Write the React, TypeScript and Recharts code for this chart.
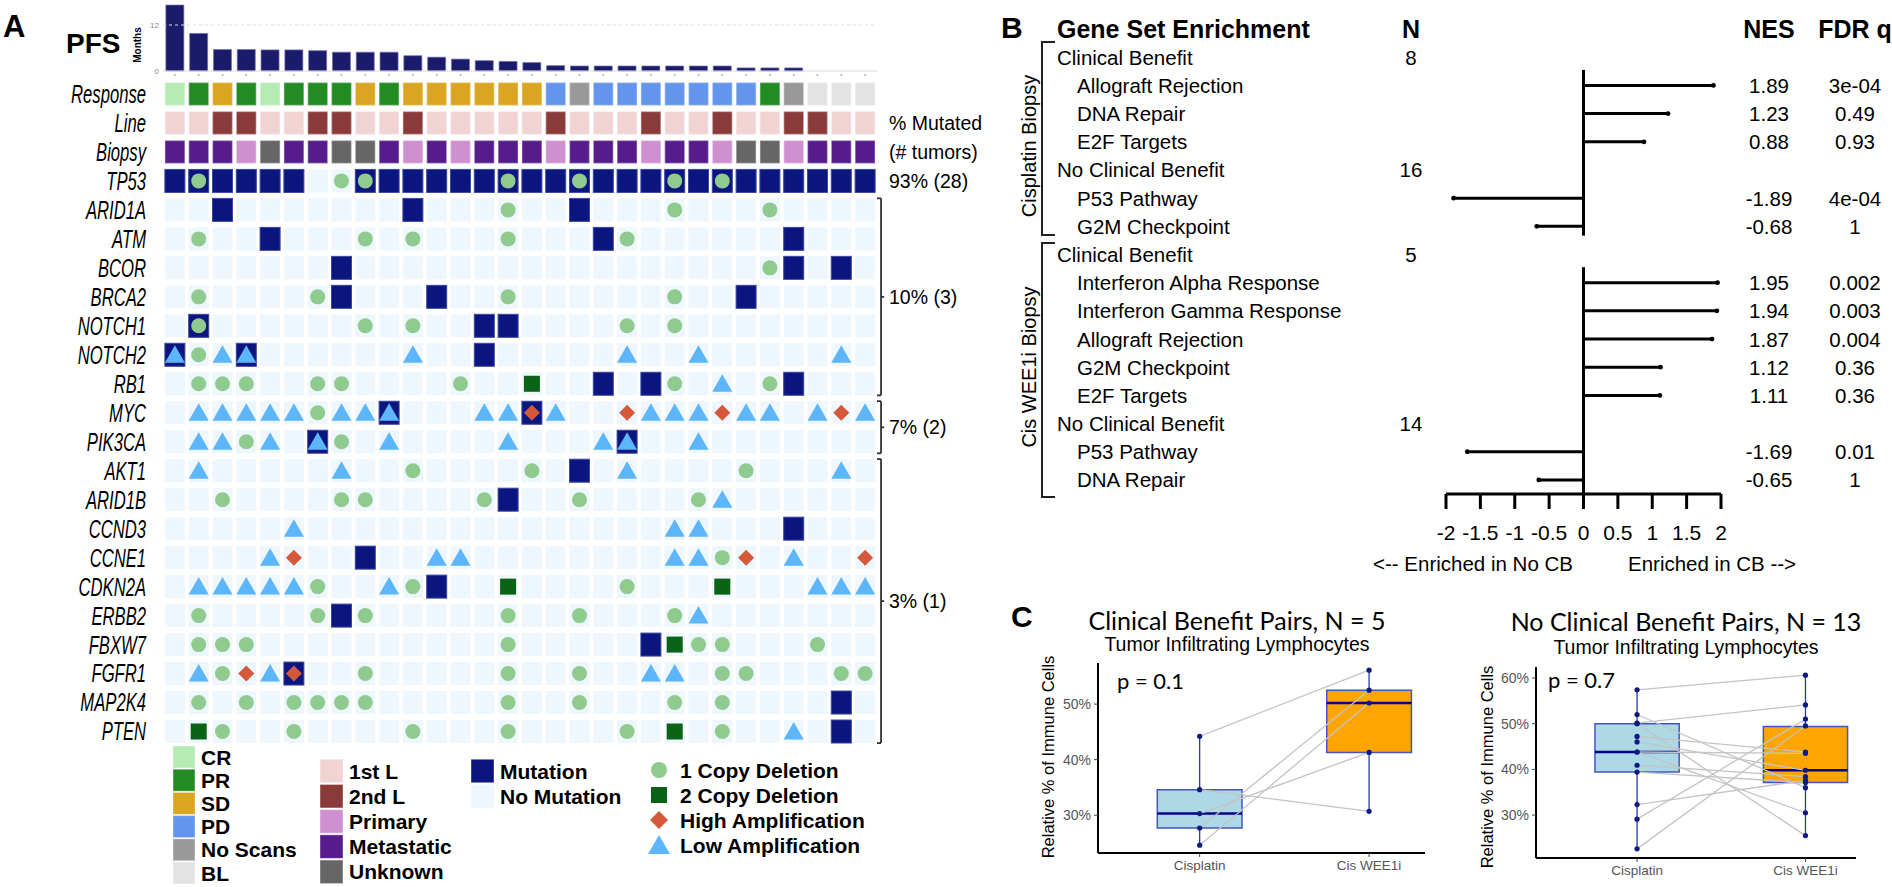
import React from "react";
import {
  BarChart,
  Bar,
  XAxis,
  YAxis,
  ScatterChart,
  Scatter,
  ReferenceLine,
  ReferenceArea,
} from "recharts";

const SANS = "'Liberation Sans', Arial, Helvetica, sans-serif";
const CALIBRI = "Lato, 'Open Sans', sans-serif";

// ---------------- Panel A: PFS + oncoprint ----------------
const pfsMonths = [
  17.2, 9.8, 5.6, 5.6, 5.5, 5.5, 5.3, 4.9, 4.9, 4.9, 4.0, 3.6, 3.1, 2.7, 2.5,
  2.2, 1.4, 1.3, 1.3, 1.3, 1.3, 1.3, 1.3, 1.3, 0.8, 0.8, 0.8, 0, 0, 0,
];

const response = [
  "CR", "PR", "SD", "PR", "CR", "PR", "PR", "PR", "SD", "PR", "SD", "SD", "SD", "SD", "SD",
  "SD", "PD", "NS", "PD", "PD", "PD", "PD", "PD", "PD", "PD", "PR", "NS", "BL", "BL", "BL",
];
const lineOfTherapy = [
  "1st", "1st", "2nd", "2nd", "1st", "1st", "2nd", "2nd", "1st", "1st", "2nd", "1st", "1st", "1st", "1st",
  "1st", "2nd", "1st", "1st", "1st", "2nd", "1st", "1st", "2nd", "1st", "1st", "2nd", "2nd", "1st", "1st",
];
const biopsySite = [
  "Metastatic", "Metastatic", "Metastatic", "Primary", "Unknown", "Metastatic", "Metastatic", "Unknown",
  "Unknown", "Metastatic", "Primary", "Metastatic", "Primary", "Metastatic", "Metastatic", "Metastatic",
  "Primary", "Metastatic", "Metastatic", "Metastatic", "Primary", "Metastatic", "Metastatic", "Primary",
  "Unknown", "Unknown", "Primary", "Metastatic", "Metastatic", "Metastatic",
];

const genes = [
  "TP53", "ARID1A", "ATM", "BCOR", "BRCA2", "NOTCH1", "NOTCH2", "RB1", "MYC", "PIK3CA",
  "AKT1", "ARID1B", "CCND3", "CCNE1", "CDKN2A", "ERBB2", "FBXW7", "FGFR1", "MAP2K4", "PTEN",
];

// columns (1-30) carrying each alteration
const mutation: Record<string, number[]> = {
  TP53: [1, 2, 3, 4, 5, 6, 9, 10, 11, 12, 13, 14, 15, 16, 17, 18, 19, 20, 21, 22, 23, 24, 25, 26, 27, 28, 29, 30],
  ARID1A: [3, 11, 18],
  ATM: [5, 19, 27],
  BCOR: [8, 27, 29],
  BRCA2: [8, 12, 25],
  NOTCH1: [2, 14, 15],
  NOTCH2: [1, 4, 14],
  RB1: [19, 21, 27],
  MYC: [10, 16],
  PIK3CA: [7, 20],
  AKT1: [18],
  ARID1B: [15],
  CCND3: [27],
  CCNE1: [9],
  CDKN2A: [12],
  ERBB2: [8],
  FBXW7: [21],
  FGFR1: [6],
  MAP2K4: [29],
  PTEN: [29],
};
const oneCopyDeletion: Record<string, number[]> = {
  TP53: [2, 8, 9, 15, 18, 22, 24],
  ARID1A: [15, 22, 26],
  ATM: [2, 9, 11, 15, 20],
  BCOR: [26],
  BRCA2: [2, 7, 15, 22],
  NOTCH1: [2, 9, 11, 20, 22],
  NOTCH2: [2],
  RB1: [2, 3, 4, 7, 8, 13, 22, 26],
  MYC: [7],
  PIK3CA: [4, 8],
  AKT1: [11, 16, 25],
  ARID1B: [3, 8, 9, 14, 18, 23],
  CCNE1: [24],
  CDKN2A: [7, 11, 20],
  ERBB2: [2, 7, 9, 15, 18, 22],
  FBXW7: [2, 3, 4, 15, 23, 24, 28],
  FGFR1: [3, 9, 15, 18, 24, 25, 29, 30],
  MAP2K4: [2, 4, 6, 7, 8, 9, 15, 18, 22, 24],
  PTEN: [3, 6, 11, 15, 20, 24],
};
const twoCopyDeletion: Record<string, number[]> = {
  RB1: [16],
  CDKN2A: [15, 24],
  FBXW7: [22],
  PTEN: [2, 22],
};
const highAmplification: Record<string, number[]> = {
  MYC: [16, 20, 24, 29],
  CCNE1: [6, 25, 30],
  FGFR1: [4, 6],
};
const lowAmplification: Record<string, number[]> = {
  NOTCH2: [1, 3, 4, 11, 20, 23, 29],
  RB1: [24],
  MYC: [2, 3, 4, 5, 6, 8, 9, 10, 14, 15, 17, 21, 22, 23, 25, 26, 28, 30],
  PIK3CA: [2, 3, 5, 7, 10, 15, 19, 20, 23],
  AKT1: [2, 8, 20, 29],
  ARID1B: [24],
  CCND3: [6, 22, 23],
  CCNE1: [5, 12, 13, 22, 23, 27],
  CDKN2A: [2, 3, 4, 5, 6, 10, 28, 29, 30],
  ERBB2: [23],
  FGFR1: [2, 5, 21, 22],
  PTEN: [27],
};

const geneGroups = [
  ["ARID1A", "RB1"],
  ["MYC", "PIK3CA"],
  ["AKT1", "PTEN"],
];

const RESPONSE_COLORS: Record<string, string> = {
  CR: "#b4ecb4", PR: "#238b23", SD: "#daa521", PD: "#6495ed", NS: "#999999", BL: "#e3e3e3",
};
const RESPONSE_NAMES: Record<string, string> = {
  CR: "CR", PR: "PR", SD: "SD", PD: "PD", NS: "No Scans", BL: "BL",
};
const LINE_COLORS: Record<string, string> = { "1st": "#f1d3d3", "2nd": "#8b3a3a" };
const LINE_NAMES: Record<string, string> = { "1st": "1st L", "2nd": "2nd L" };
const BIOPSY_COLORS: Record<string, string> = {
  Primary: "#cf90cf", Metastatic: "#561c8b", Unknown: "#666666",
};
const MUT_COLOR = "#0b1580";
const EMPTY_COLOR = "#eef6fe";
const DEL1_COLOR = "#8fcb8f";
const DEL2_COLOR = "#0b6315";
const HIGH_COLOR = "#d6583a";
const LOW_COLOR = "#5cb6f9";

// ---------------- Panel B: GSEA ----------------
const gseaTerms = [
  "Clinical Benefit", "Allograft Rejection", "DNA Repair", "E2F Targets",
  "No Clinical Benefit", "P53 Pathway", "G2M Checkpoint",
  "Clinical Benefit", "Interferon Alpha Response", "Interferon Gamma Response",
  "Allograft Rejection", "G2M Checkpoint", "E2F Targets",
  "No Clinical Benefit", "P53 Pathway", "DNA Repair",
];
const gseaN = [8, null, null, null, 16, null, null, 5, null, null, null, null, null, 14, null, null];
const gseaNES = [null, 1.89, 1.23, 0.88, null, -1.89, -0.68, null, 1.95, 1.94, 1.87, 1.12, 1.11, null, -1.69, -0.65];
const gseaFDR = [null, "3e-04", "0.49", "0.93", null, "4e-04", "1", null, "0.002", "0.003", "0.004", "0.36", "0.36", null, "0.01", "1"];
const nesTicks = [-2, -1.5, -1, -0.5, 0, 0.5, 1, 1.5, 2];

// ---------------- Panel C: paired TIL box plots ----------------
const arms = ["Cisplatin", "Cis WEE1i"];
// paired values, same index = same patient
const cbCisplatin = [44.2, 34.6, 30.3, 27.7, 24.6];
const cbWee1i = [56.1, 30.7, 41.3, 52.5, 50.2];
const cbBoxCis = [24.6, 27.7, 30.3, 34.6, 44.2]; // min, q1, median, q3, max
const cbBoxWee = [30.7, 41.3, 50.2, 52.5, 56.1];

const ncbCisplatin = [57.4, 52.0, 50.1, 50.0, 47.2, 46.0, 43.8, 43.8, 40.9, 39.4, 32.3, 29.1, 22.6];
const ncbWee1i = [60.6, 36.0, 54.1, 25.5, 43.8, 39.8, 43.5, 30.5, 38.4, 37.1, 37.6, 51.0, 49.5];
const ncbBoxCis = [22.6, 39.4, 43.8, 50.0, 57.4];
const ncbBoxWee = [25.5, 37.1, 39.8, 49.4, 60.6];

// ---------------- helpers ----------------
const nCols = pfsMonths.length;
const colIndex = pfsMonths.map((_, i) => i + 1);
const rowNames = ["Response", "Line", "Biopsy", ...genes];
const rowOf = (g: string) => genes.indexOf(g) + 3;
const pctLabel = (n: number) => `${Math.round((100 * n) / nCols)}% (${n})`;

const annotationCells = [
  ...response.map((r, i) => ({ x: i + 1, y: 0, fill: RESPONSE_COLORS[r] })),
  ...lineOfTherapy.map((r, i) => ({ x: i + 1, y: 1, fill: LINE_COLORS[r] })),
  ...biopsySite.map((r, i) => ({ x: i + 1, y: 2, fill: BIOPSY_COLORS[r] })),
];
const emptyCells = genes.flatMap((g) => colIndex.map((c) => ({ x: c, y: rowOf(g) })));
const pointsOf = (table: Record<string, number[]>) =>
  genes.flatMap((g) => (table[g] || []).map((c) => ({ x: c, y: rowOf(g) })));

const CW = 20;
const CH = 23;

const AnnoCell = (p: any) => (
  <rect x={p.cx - CW / 2} y={p.cy - CH / 2} width={CW} height={CH} fill={p.payload.fill}
    stroke="#ffffff" strokeOpacity={0.35} strokeWidth={1.5} />
);
const EmptyCell = (p: any) => (
  <rect x={p.cx - CW / 2} y={p.cy - CH / 2} width={CW} height={CH} fill={EMPTY_COLOR} />
);
const MutCell = (p: any) => (
  <rect x={p.cx - CW / 2} y={p.cy - CH / 2} width={CW} height={CH} fill={MUT_COLOR}
    stroke="#3b47a0" strokeWidth={1} />
);
const Del1 = (p: any) => <circle cx={p.cx} cy={p.cy} r={7.5} fill={DEL1_COLOR} />;
const Del2 = (p: any) => <rect x={p.cx - 8} y={p.cy - 8} width={16} height={16} fill={DEL2_COLOR} />;
const HighAmp = (p: any) => (
  <polygon points={`${p.cx},${p.cy - 8} ${p.cx + 8},${p.cy} ${p.cx},${p.cy + 8} ${p.cx - 8},${p.cy}`} fill={HIGH_COLOR} />
);
const LowAmp = (p: any) => (
  <polygon points={`${p.cx},${p.cy - 9.5} ${p.cx + 10},${p.cy + 8} ${p.cx - 10},${p.cy + 8}`} fill={LOW_COLOR} />
);

// right-hand "% mutated" texts, keyed by row position
const rightLabels: Record<string, string> = {
  "1": "% Mutated",
  "2": "(# tumors)",
  "3": pctLabel(mutation.TP53.length),
};
geneGroups.forEach(([a, b]) => {
  rightLabels[String((rowOf(a) + rowOf(b)) / 2)] = pctLabel(mutation[a].length);
});
const rowTicks = Array.from(
  new Set([...rowNames.map((_, i) => i), ...Object.keys(rightLabels).map(Number)])
).sort((a, b) => a - b);

const RowLabel = ({ y, payload }: any) => {
  const v = payload.value;
  const right = rightLabels[String(v)];
  return (
    <g fontFamily={SANS} fill="#000">
      {Number.isInteger(v) && (
        <text transform={`translate(146,${y}) scale(0.64,1)`} textAnchor="end" dominantBaseline="central"
          fontStyle="italic" fontSize={26}>
          {rowNames[v]}
        </text>
      )}
      {right && (
        <text x={889} y={y} dominantBaseline="central" fontSize={19.5}>{right}</text>
      )}
    </g>
  );
};

const PfsTick = ({ x, y }: any) => <circle cx={x} cy={y + 1} r={0.9} fill="#aaa" />;

function PfsChart() {
  const data = pfsMonths.map((v, i) => ({ col: i + 1, pfs: v }));
  return (
    <BarChart width={728} height={78} data={data} margin={{ top: 2, right: 0, left: 0, bottom: 0 }}
      barCategoryGap="12%">
      <XAxis dataKey="col" height={7} interval={0} tickLine={false} tickSize={2} tickMargin={1}
        axisLine={{ stroke: "#dcdcdc" }} tick={<PfsTick />} />
      <YAxis width={14} domain={[0, 18]} ticks={[0, 12]} tickLine={false} axisLine={false}
        tickSize={2} tickMargin={2} tick={{ fontSize: 8, fill: "#888" }} />
      <ReferenceLine y={12} stroke="#dddddd" strokeDasharray="3 3" />
      <Bar dataKey="pfs" fill="#1b1b6b" stroke="#7070b0" strokeWidth={0.7} isAnimationActive={false} />
    </BarChart>
  );
}

function OncoPrint() {
  return (
    <ScatterChart width={1000} height={752} margin={{ top: 79.5, right: 123, left: 0, bottom: 6 }}>
      <XAxis type="number" dataKey="x" domain={[0.5, nCols + 0.5]} hide />
      <YAxis type="number" dataKey="y" domain={[-0.5, rowNames.length - 0.5]} reversed ticks={rowTicks}
        interval={0} width={163} axisLine={false} tickLine={false} tick={<RowLabel />} />
      <Scatter data={annotationCells} shape={AnnoCell} isAnimationActive={false} />
      <Scatter data={emptyCells} shape={EmptyCell} isAnimationActive={false} />
      <Scatter data={pointsOf(mutation)} shape={MutCell} isAnimationActive={false} />
      <Scatter data={pointsOf(oneCopyDeletion)} shape={Del1} isAnimationActive={false} />
      <Scatter data={pointsOf(twoCopyDeletion)} shape={Del2} isAnimationActive={false} />
      <Scatter data={pointsOf(lowAmplification)} shape={LowAmp} isAnimationActive={false} />
      <Scatter data={pointsOf(highAmplification)} shape={HighAmp} isAnimationActive={false} />
      {geneGroups.map(([a, b]) => {
        const top = rowOf(a) - 0.4;
        const bottom = rowOf(b) + 0.4;
        const mid = (rowOf(a) + rowOf(b)) / 2;
        const xl = nCols + 0.67;
        const segs = [
          [{ x: xl, y: top }, { x: xl, y: bottom }],
          [{ x: nCols + 0.5, y: top }, { x: xl, y: top }],
          [{ x: nCols + 0.5, y: bottom }, { x: xl, y: bottom }],
          [{ x: xl, y: mid }, { x: nCols + 0.8, y: mid }],
        ];
        return segs.map((s, i) => (
          <ReferenceLine key={a + i} segment={s} stroke="#333" strokeWidth={1.8} ifOverflow="visible" />
        ));
      })}
    </ScatterChart>
  );
}

// ---------------- Panel B chart ----------------
const GseaTick = ({ y, payload }: any) => {
  const row = payload.value;
  if (row === 0) {
    return (
      <g fontFamily={SANS} fontWeight="bold" fontSize={25} fill="#000">
        <text x={17} y={y} dominantBaseline="central">Gene Set Enrichment</text>
        <text x={371} y={y} textAnchor="middle" dominantBaseline="central">N</text>
        <text x={729} y={y} textAnchor="middle" dominantBaseline="central">NES</text>
        <text x={815} y={y} textAnchor="middle" dominantBaseline="central">FDR q</text>
      </g>
    );
  }
  const i = row - 1;
  const isGroup = gseaN[i] != null;
  return (
    <g fontFamily={SANS} fontSize={20.5} fill="#000">
      <text x={isGroup ? 17 : 37} y={y} dominantBaseline="central">{gseaTerms[i]}</text>
      {isGroup && (
        <text x={371} y={y} textAnchor="middle" dominantBaseline="central">{gseaN[i]}</text>
      )}
      {gseaNES[i] != null && (
        <text x={729} y={y} textAnchor="middle" dominantBaseline="central">{gseaNES[i]!.toFixed(2)}</text>
      )}
      {gseaFDR[i] != null && (
        <text x={815} y={y} textAnchor="middle" dominantBaseline="central">{gseaFDR[i]}</text>
      )}
    </g>
  );
};

function GseaChart() {
  const rows = [0, ...gseaTerms.map((_, i) => i + 1)];
  const bars = gseaNES
    .map((v, i) => ({ x: v, y: i + 1 }))
    .filter((d) => d.x != null) as { x: number; y: number }[];
  return (
    <ScatterChart width={852} height={555} margin={{ top: 15, right: 171, left: 0, bottom: 0 }}>
      <XAxis type="number" dataKey="x" domain={[-2, 2]} ticks={nesTicks} interval={0} height={61}
        tickSize={15} tickMargin={16} tickFormatter={(v) => String(v)}
        axisLine={{ stroke: "#000", strokeWidth: 3 }} tickLine={{ stroke: "#000", strokeWidth: 3 }}
        tick={{ fill: "#000", fontSize: 21, fontFamily: SANS }} />
      <YAxis type="number" dataKey="y" domain={[-0.5, 16.5]} reversed ticks={rows} interval={0}
        width={406} axisLine={false} tickLine={false} tick={<GseaTick />} />
      <ReferenceLine segment={[{ x: 0, y: 1.45 }, { x: 0, y: 7.33 }]} stroke="#000" strokeWidth={3} />
      <ReferenceLine segment={[{ x: 0, y: 8.45 }, { x: 0, y: 16.5 }]} stroke="#000" strokeWidth={3} />
      {bars.map((d) => (
        <ReferenceLine key={d.y} segment={[{ x: 0, y: d.y }, { x: d.x, y: d.y }]} stroke="#000" strokeWidth={3} />
      ))}
      <Scatter data={bars} shape={(p: any) => <circle cx={p.cx} cy={p.cy} r={2.4} fill="#000" />}
        isAnimationActive={false} />
    </ScatterChart>
  );
}

// ---------------- Panel C charts ----------------
function PairedBox({
  cis, wee, boxCis, boxWee, xDomain, yDomain, yTicks, width, height,
}: {
  cis: number[]; wee: number[]; boxCis: number[]; boxWee: number[];
  xDomain: [number, number]; yDomain: [number, number]; yTicks: number[]; width: number; height: number;
}) {
  const pts = [...cis.map((v) => ({ x: 1, y: v })), ...wee.map((v) => ({ x: 2, y: v }))];
  const boxes = [
    { x: 1, s: boxCis, fill: "#add8e6" },
    { x: 2, s: boxWee, fill: "#ffa500" },
  ];
  return (
    <ScatterChart width={width} height={height} margin={{ top: 8, right: 5, left: 0, bottom: 0 }}>
      <XAxis type="number" dataKey="x" domain={xDomain} ticks={[1, 2]} interval={0} height={24}
        tickFormatter={(v) => arms[v - 1]} tickSize={4} tickMargin={3}
        axisLine={{ stroke: "#000", strokeWidth: 2 }} tickLine={{ stroke: "#444" }}
        tick={{ fontSize: 13.5, fill: "#555", fontFamily: SANS }} />
      <YAxis type="number" dataKey="y" domain={yDomain} ticks={yTicks} interval={0} width={63}
        tickFormatter={(v) => `${v}%`} tickSize={4} tickMargin={3}
        axisLine={{ stroke: "#000", strokeWidth: 2 }} tickLine={{ stroke: "#444" }}
        tick={{ fontSize: 14, fill: "#555", fontFamily: SANS }} />
      {boxes.map((b) => (
        <ReferenceArea key={"a" + b.x} x1={b.x - 0.25} x2={b.x + 0.25} y1={b.s[1]} y2={b.s[3]}
          fill={b.fill} fillOpacity={1} stroke="#4455c0" strokeWidth={1.5} />
      ))}
      {boxes.map((b) => (
        <ReferenceLine key={"lo" + b.x} segment={[{ x: b.x, y: b.s[0] }, { x: b.x, y: b.s[1] }]}
          stroke="#2b3b9b" strokeWidth={1.3} />
      ))}
      {boxes.map((b) => (
        <ReferenceLine key={"hi" + b.x} segment={[{ x: b.x, y: b.s[3] }, { x: b.x, y: b.s[4] }]}
          stroke="#2b3b9b" strokeWidth={1.3} />
      ))}
      {boxes.map((b) => (
        <ReferenceLine key={"md" + b.x} segment={[{ x: b.x - 0.25, y: b.s[2] }, { x: b.x + 0.25, y: b.s[2] }]}
          stroke="#00008b" strokeWidth={2.6} />
      ))}
      {cis.map((v, i) => (
        <ReferenceLine key={"p" + i} segment={[{ x: 1, y: v }, { x: 2, y: wee[i] }]}
          stroke="#c4c4c4" strokeWidth={1.3} />
      ))}
      <Scatter data={pts} shape={(p: any) => <circle cx={p.cx} cy={p.cy} r={2.6} fill="#0d1a80" />}
        isAnimationActive={false} />
    </ScatterChart>
  );
}

// ---------------- legend pieces ----------------
const responseLegend = Object.keys(RESPONSE_COLORS).map((k) => [RESPONSE_NAMES[k], RESPONSE_COLORS[k]]);
const sampleLegend = [
  ...Object.keys(LINE_COLORS).map((k) => [LINE_NAMES[k], LINE_COLORS[k]]),
  ...Object.keys(BIOPSY_COLORS).map((k) => [k, BIOPSY_COLORS[k]]),
];
const mutationLegend = [
  ["Mutation", MUT_COLOR],
  ["No Mutation", EMPTY_COLOR],
];
const cnaLegend = ["1 Copy Deletion", "2 Copy Deletion", "High Amplification", "Low Amplification"];

function SwatchColumn({ items, x, y0, dy, w, h }: { items: string[][]; x: number; y0: number; dy: number; w: number; h: number }) {
  return (
    <g>
      {items.map(([label, color], i) => (
        <g key={label}>
          <rect x={x} y={y0 + i * dy - h / 2} width={w} height={h} fill={color} stroke="#fff" strokeOpacity={0.4} />
          <text x={x + w + 6} y={y0 + i * dy + 7.5} fontWeight="bold" fontSize={21}>{label}</text>
        </g>
      ))}
    </g>
  );
}

function CnaSymbol({ i, cx, cy }: { i: number; cx: number; cy: number }) {
  if (i === 0) return <circle cx={cx} cy={cy} r={8} fill={DEL1_COLOR} />;
  if (i === 1) return <rect x={cx - 8} y={cy - 8} width={16} height={16} fill={DEL2_COLOR} />;
  if (i === 2)
    return <polygon points={`${cx},${cy - 9} ${cx + 9},${cy} ${cx},${cy + 9} ${cx - 9},${cy}`} fill={HIGH_COLOR} />;
  return <polygon points={`${cx},${cy - 10} ${cx + 11},${cy + 9} ${cx - 11},${cy + 9}`} fill={LOW_COLOR} />;
}

export default function App() {
  return (
    <div style={{ position: "absolute", left: 0, top: 0, width: 1892, height: 887, background: "#fff", overflow: "hidden", fontFamily: SANS }}>
      <div style={{ position: "absolute", left: 149, top: 0 }}>
        <PfsChart />
      </div>
      <div style={{ position: "absolute", left: 0, top: 0 }}>
        <OncoPrint />
      </div>
      <div style={{ position: "absolute", left: 1040, top: 0 }}>
        <GseaChart />
      </div>
      <div style={{ position: "absolute", left: 1035, top: 655 }}>
        <PairedBox cis={cbCisplatin} wee={cbWee1i} boxCis={cbBoxCis} boxWee={cbBoxWee}
          xDomain={[0.4, 2.33]} yDomain={[23.2, 57.4]} yTicks={[30, 40, 50]} width={395} height={222} />
      </div>
      <div style={{ position: "absolute", left: 1473, top: 659 }}>
        <PairedBox cis={ncbCisplatin} wee={ncbWee1i} boxCis={ncbBoxCis} boxWee={ncbBoxWee}
          xDomain={[0.4, 2.3]} yDomain={[20.6, 62.4]} yTicks={[30, 40, 50, 60]} width={388} height={223} />
      </div>

      <svg width={1892} height={887} style={{ position: "absolute", left: 0, top: 0, pointerEvents: "none" }}
        fontFamily={SANS} fill="#000">
        {/* panel A headings */}
        <text x={3} y={37} fontWeight="bold" fontSize={31}>A</text>
        <text x={66} y={53} fontWeight="bold" fontSize={28}>PFS</text>
        <text transform="translate(141,45) rotate(-90)" textAnchor="middle" fontWeight="bold" fontSize={10}>Months</text>

        {/* panel A legend */}
        <SwatchColumn items={responseLegend} x={173} y0={757} dy={23.2} w={22} h={22} />
        <SwatchColumn items={sampleLegend} x={320} y0={771} dy={25.2} w={23} h={23.5} />
        <SwatchColumn items={mutationLegend} x={471} y0={771} dy={25.2} w={23} h={23.5} />
        {cnaLegend.map((label, i) => (
          <g key={label}>
            <CnaSymbol i={i} cx={659} cy={770 + i * 25} />
            <text x={680} y={770 + i * 25 + 7.5} fontWeight="bold" fontSize={21}>{label}</text>
          </g>
        ))}

        {/* panel B */}
        <text x={1001} y={38} fontWeight="bold" fontSize={30}>B</text>
        <path d="M1055 42 H1042 V235 H1055" fill="none" stroke="#222" strokeWidth={2} />
        <path d="M1055 243 H1042 V497 H1055" fill="none" stroke="#222" strokeWidth={2} />
        <text transform="translate(1036,146) rotate(-90)" textAnchor="middle" fontSize={20}>Cisplatin Biopsy</text>
        <text transform="translate(1036,367) rotate(-90)" textAnchor="middle" fontSize={20}>Cis WEE1i Biopsy</text>
        <text x={1573} y={571} textAnchor="end" fontSize={20.5}>{"<-- Enriched in No CB"}</text>
        <text x={1628} y={571} fontSize={20.5}>{"Enriched in CB -->"}</text>

        {/* panel C */}
        <text x={1011} y={627} fontWeight="bold" fontSize={30}>C</text>
        <text x={1237} y={630} textAnchor="middle" fontSize={25} fontFamily={CALIBRI}>Clinical Benefit Pairs, N = 5</text>
        <text x={1237} y={651} textAnchor="middle" fontSize={19.5}>Tumor Infiltrating Lymphocytes</text>
        <text x={1117} y={689} fontSize={22} fontFamily={CALIBRI}>p = 0.1</text>
        <text transform="translate(1054,757) rotate(-90)" textAnchor="middle" fontSize={16.5}>Relative % of Immune Cells</text>

        <text x={1686} y={631} textAnchor="middle" fontSize={25} fontFamily={CALIBRI}>No Clinical Benefit Pairs, N = 13</text>
        <text x={1686} y={654} textAnchor="middle" fontSize={19.5}>Tumor Infiltrating Lymphocytes</text>
        <text x={1548} y={688} fontSize={22} fontFamily={CALIBRI}>p = 0.7</text>
        <text transform="translate(1493,767) rotate(-90)" textAnchor="middle" fontSize={16.5}>Relative % of Immune Cells</text>
      </svg>
    </div>
  );
}
